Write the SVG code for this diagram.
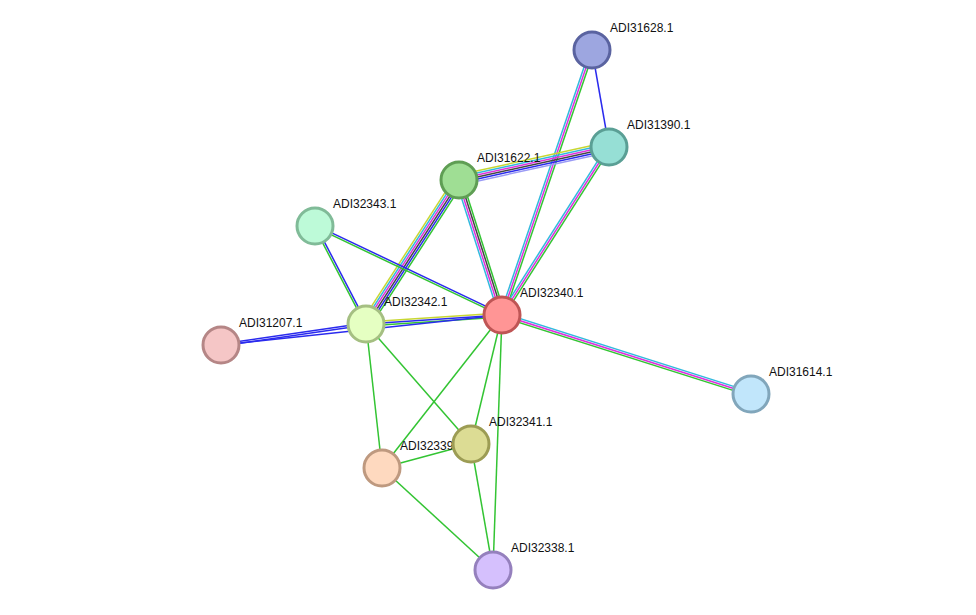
<svg xmlns="http://www.w3.org/2000/svg" width="976" height="615" viewBox="0 0 976 615">
<style>
line{stroke-width:1.5;fill:none}
.y{stroke:#c8d732}.c{stroke:#31b9dd}.m{stroke:#dd30dd}.k{stroke:#444}.b{stroke:#2a2aee}.lb{stroke:#9a9af5}.g{stroke:#33c433}
circle{stroke-width:3}
text{font-family:"Liberation Sans",Arial,sans-serif;font-size:12px;fill:#111}
</style>
<rect width="976" height="615" fill="#fff"/>
<g id="edges">
<line class="c" x1="592" y1="50" x2="502" y2="315" transform="translate(-1.9,-0.64)"/>
<line class="m" x1="592" y1="50" x2="502" y2="315"/>
<line class="g" x1="592" y1="50" x2="502" y2="315" transform="translate(1.9,0.64)"/>
<line class="b" x1="592" y1="50" x2="609" y2="147"/>
<line class="y" x1="609" y1="147" x2="459" y2="180" transform="translate(-1.07,-4.9)"/>
<line class="c" x1="609" y1="147" x2="459" y2="180" transform="translate(-0.64,-2.9)"/>
<line class="m" x1="609" y1="147" x2="459" y2="180" transform="translate(-0.21,-1)"/>
<line class="k" x1="609" y1="147" x2="459" y2="180" transform="translate(0.21,1)"/>
<line class="b" x1="609" y1="147" x2="459" y2="180" transform="translate(0.64,2.9)"/>
<line class="lb" x1="609" y1="147" x2="459" y2="180" transform="translate(1.07,4.9)"/>
<line class="c" x1="609" y1="147" x2="502" y2="315" transform="translate(-1.7,-1.1)"/>
<line class="m" x1="609" y1="147" x2="502" y2="315"/>
<line class="g" x1="609" y1="147" x2="502" y2="315" transform="translate(1.7,1.1)"/>
<line class="c" x1="459" y1="180" x2="502" y2="315" transform="translate(-2.9,0.9)"/>
<line class="m" x1="459" y1="180" x2="502" y2="315" transform="translate(-1,0.3)"/>
<line class="k" x1="459" y1="180" x2="502" y2="315" transform="translate(1,-0.3)"/>
<line class="g" x1="459" y1="180" x2="502" y2="315" transform="translate(2.9,-0.9)"/>
<line class="y" x1="459" y1="180" x2="366" y2="324" transform="translate(-4.2,-2.7)"/>
<line class="c" x1="459" y1="180" x2="366" y2="324" transform="translate(-2.5,-1.6)"/>
<line class="m" x1="459" y1="180" x2="366" y2="324" transform="translate(-0.84,-0.54)"/>
<line class="k" x1="459" y1="180" x2="366" y2="324" transform="translate(0.84,0.54)"/>
<line class="b" x1="459" y1="180" x2="366" y2="324" transform="translate(2.5,1.6)"/>
<line class="g" x1="459" y1="180" x2="366" y2="324" transform="translate(4.2,2.7)"/>
<line class="b" x1="315" y1="226" x2="502" y2="315" transform="translate(0.43,-0.9)"/>
<line class="g" x1="315" y1="226" x2="502" y2="315" transform="translate(-0.43,0.9)"/>
<line class="b" x1="315" y1="226" x2="366" y2="324" transform="translate(0.9,-0.46)"/>
<line class="g" x1="315" y1="226" x2="366" y2="324" transform="translate(-0.9,0.46)"/>
<line class="y" x1="366" y1="324" x2="502" y2="315" transform="translate(-0.13,-2)"/>
<line class="b" x1="366" y1="324" x2="502" y2="315"/>
<line class="g" x1="366" y1="324" x2="502" y2="315" transform="translate(0.13,2)"/>
<line class="b" x1="221" y1="345" x2="366" y2="324" transform="translate(-0.14,-1)"/>
<line class="b" x1="221" y1="345" x2="366" y2="324" transform="translate(0.14,1)"/>
<line class="b" x1="221" y1="345" x2="502" y2="315"/>
<line class="c" x1="502" y1="315" x2="751" y2="394" transform="translate(0.6,-1.9)"/>
<line class="m" x1="502" y1="315" x2="751" y2="394"/>
<line class="g" x1="502" y1="315" x2="751" y2="394" transform="translate(-0.6,1.9)"/>
<line class="g" x1="502" y1="315" x2="471" y2="444"/>
<line class="g" x1="502" y1="315" x2="382" y2="468"/>
<line class="g" x1="502" y1="315" x2="493" y2="570"/>
<line class="g" x1="366" y1="324" x2="471" y2="444"/>
<line class="g" x1="366" y1="324" x2="382" y2="468"/>
<line class="g" x1="382" y1="468" x2="471" y2="444"/>
<line class="g" x1="382" y1="468" x2="493" y2="570"/>
<line class="g" x1="471" y1="444" x2="493" y2="570"/>
</g>
<g id="n31628"><circle cx="592" cy="50" r="18" fill="#9da6e0" stroke="#5a63a0"/><text x="610" y="32">ADI31628.1</text></g>
<g id="n31390"><circle cx="609" cy="147" r="18" fill="#96dfd5" stroke="#5a9f95"/><text x="627" y="129">ADI31390.1</text></g>
<g id="n31622"><circle cx="459" cy="180" r="18" fill="#9fde94" stroke="#5f9e54"/><text x="477" y="162">ADI31622.1</text></g>
<g id="n32343"><circle cx="315" cy="226" r="18" fill="#bdfad8" stroke="#80bb98"/><text x="333" y="208">ADI32343.1</text></g>
<g id="n31207"><circle cx="221" cy="345" r="18" fill="#f5c6c6" stroke="#b58686"/><text x="239" y="327">ADI31207.1</text></g>
<g id="n32342"><circle cx="366" cy="324" r="18" fill="#e5ffc2" stroke="#a5bf82"/><text x="384" y="306">ADI32342.1</text></g>
<g id="n32340"><circle cx="502" cy="315" r="18" fill="#ff9595" stroke="#bf5555"/><text x="520" y="297">ADI32340.1</text></g>
<g id="n31614"><circle cx="751" cy="394" r="18" fill="#c1e6fb" stroke="#81a6bb"/><text x="769" y="376">ADI31614.1</text></g>
<g id="n32339"><circle cx="382" cy="468" r="18" fill="#fed9bf" stroke="#be997f"/><text x="400" y="450">ADI32339.1</text></g>
<g id="n32341"><circle cx="471" cy="444" r="18" fill="#dcdc94" stroke="#9c9c54"/><text x="489" y="426">ADI32341.1</text></g>
<g id="n32338"><circle cx="493" cy="570" r="18" fill="#d5c0fd" stroke="#9580bd"/><text x="511" y="552">ADI32338.1</text></g>
</svg>
